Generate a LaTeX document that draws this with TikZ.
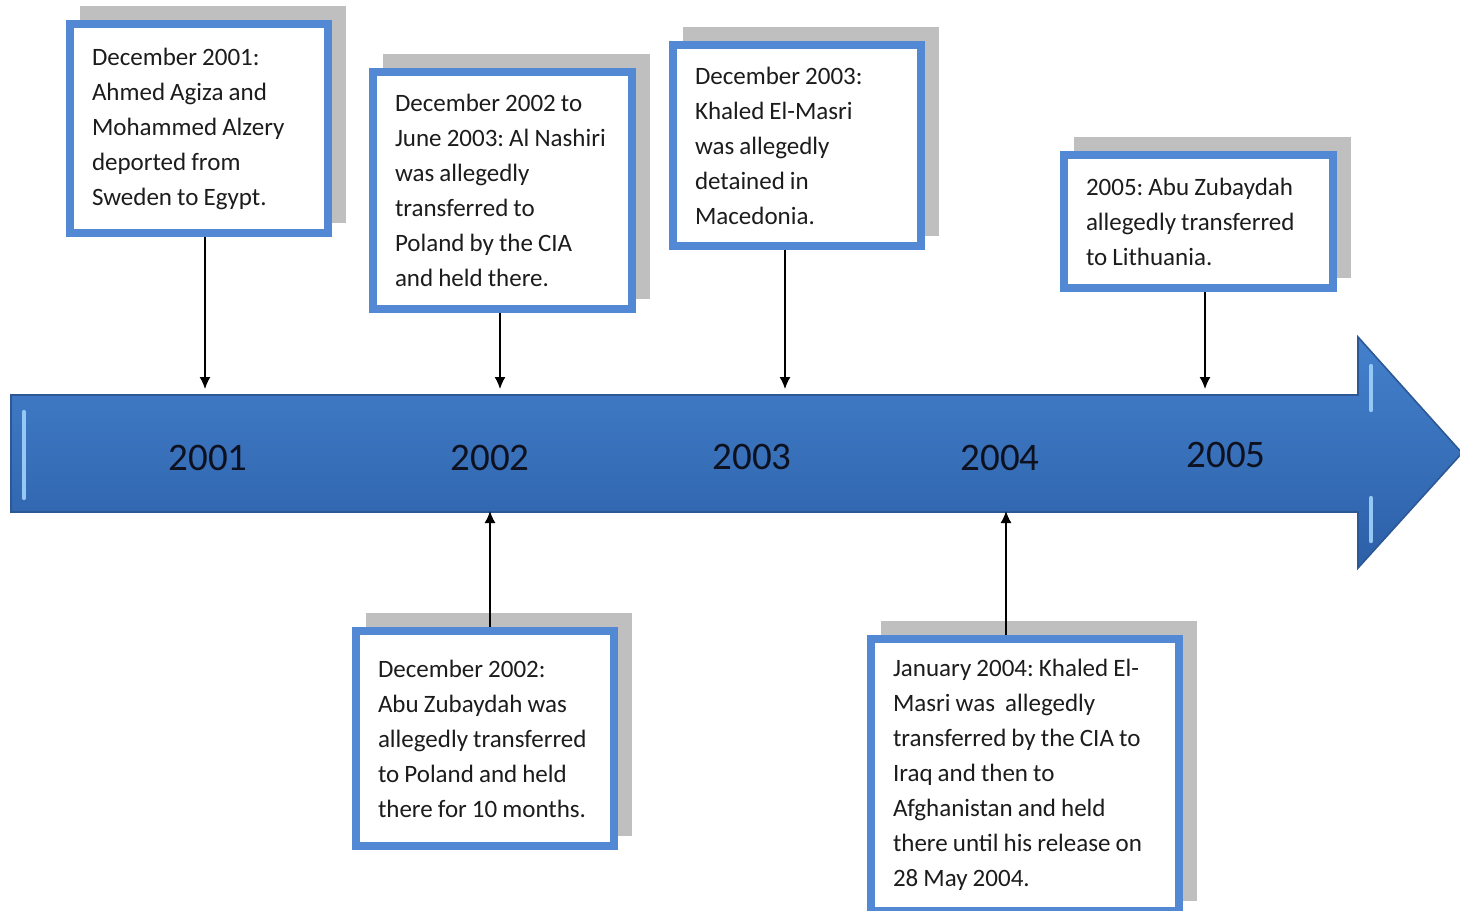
\documentclass[tikz,border=0pt]{standalone}
\usepackage{fontspec}
\setmainfont{Carlito}[WordSpace=0.9]
\frenchspacing
\usetikzlibrary{arrows.meta,backgrounds}

\definecolor{boxblue}{RGB}{83,137,212}
\definecolor{shadowgray}{RGB}{191,191,191}
\definecolor{bodytop}{RGB}{68,128,204}
\definecolor{bodybot}{RGB}{44,96,168}
\definecolor{bodyedge}{RGB}{44,88,150}
\definecolor{shine}{RGB}{150,200,245}
\definecolor{textdark}{RGB}{28,28,28}
\definecolor{yeardark}{RGB}{14,18,32}

\begin{document}
\begin{tikzpicture}[x=0.5pt,y=-0.5pt,
  event/.style={draw=boxblue, line width=4pt, fill=white, align=flush left,
    inner xsep=11pt, inner ysep=2pt, text=textdark,
    font=\fontsize{12.5}{17.5}\selectfont},
  year/.style={text=yeardark, font=\fontsize{19.5}{22}\selectfont},
  link/.style={-{Latex[length=6pt,width=5.5pt]}, line width=0.7pt},
  boxshadow/.style={fill=shadowgray},
  gloss/.style={draw=shine, line width=2.2pt, line cap=round}]
\useasboundingbox (0,0) rectangle (1460,910);

% Timeline arrow
\draw[line width=0.8pt, draw=bodyedge, top color=bodytop, bottom color=bodybot]
  (11,395) -- (1358,395) -- (1358,337) -- (1462,453) -- (1358,568)
  -- (1358,512) -- (11,512) -- cycle;
\draw[gloss] (24,412) -- (24,498);
\draw[gloss] (1371,366) -- (1371,410);
\draw[gloss] (1371,498) -- (1371,541);

% Years
\node[year] (y1) at (208,458) {2001};
\node[year] (y2) at (490,458) {2002};
\node[year] (y3) at (752,457) {2003};
\node[year] (y4) at (1000,458) {2004};
\node[year] (y5) at (1226,455) {2005};

% Arrow ends on the timeline
\coordinate (e1) at (205,389);
\coordinate (e2) at (500,389);
\coordinate (e3) at (785,389);
\coordinate (e4) at (1205,389);
\coordinate (e5) at (490,511);
\coordinate (e6) at (1006,511);

% Events above
\node[event, text width=107pt, minimum width=129pt, minimum height=104.5pt] (b1) at (199,128.5)
  {December 2001:\\Ahmed Agiza and\\Mohammed Alzery\\deported from\\Sweden to Egypt.};
\node[event, text width=107.5pt, minimum width=129.5pt, minimum height=118.5pt] (b2) at (502.5,190.5)
  {December 2002 to\\June 2003: Al Nashiri\\was allegedly\\transferred to\\Poland by the CIA\\and held there.};
\node[event, text width=102pt, minimum width=124pt, minimum height=100.5pt] (b3) at (797,145.5)
  {December 2003:\\Khaled El-Masri\\was allegedly\\detained in\\Macedonia.};
\node[event, text width=112.5pt, minimum width=134.5pt, minimum height=66.5pt] (b4) at (1198.5,221.5)
  {2005: Abu Zubaydah\\allegedly transferred\\to Lithuania.};

% Events below
\node[event, text width=107pt, minimum width=129pt, minimum height=107.5pt] (b5) at (485,738.5)
  {December 2002:\\Abu Zubaydah was\\allegedly transferred\\to Poland and held\\there for 10 months.};
\node[event, text width=132pt, minimum width=154pt, minimum height=136pt] (b6) at (1025,775)
  {January 2004: Khaled El-\\Masri was \ allegedly\\transferred by the CIA to\\Iraq and then to\\Afghanistan and held\\there until his release on\\28 May 2004.};

% Shadows
\begin{scope}[on background layer]
\foreach \b in {b1,b2,b3,b4,b5,b6}
  \fill[boxshadow] ([shift={(14,-14)}]\b.south west) rectangle ([shift={(14,-14)}]\b.north east);
\end{scope}

% Connectors
\draw[link] (b1.south -| e1) -- (e1);
\draw[link] (b2.south -| e2) -- (e2);
\draw[link] (b3.south -| e3) -- (e3);
\draw[link] (b4.south -| e4) -- (e4);
\draw[link] (b5.north -| e5) -- (e5);
\draw[link] (b6.north -| e6) -- (e6);
\end{tikzpicture}
\end{document}
